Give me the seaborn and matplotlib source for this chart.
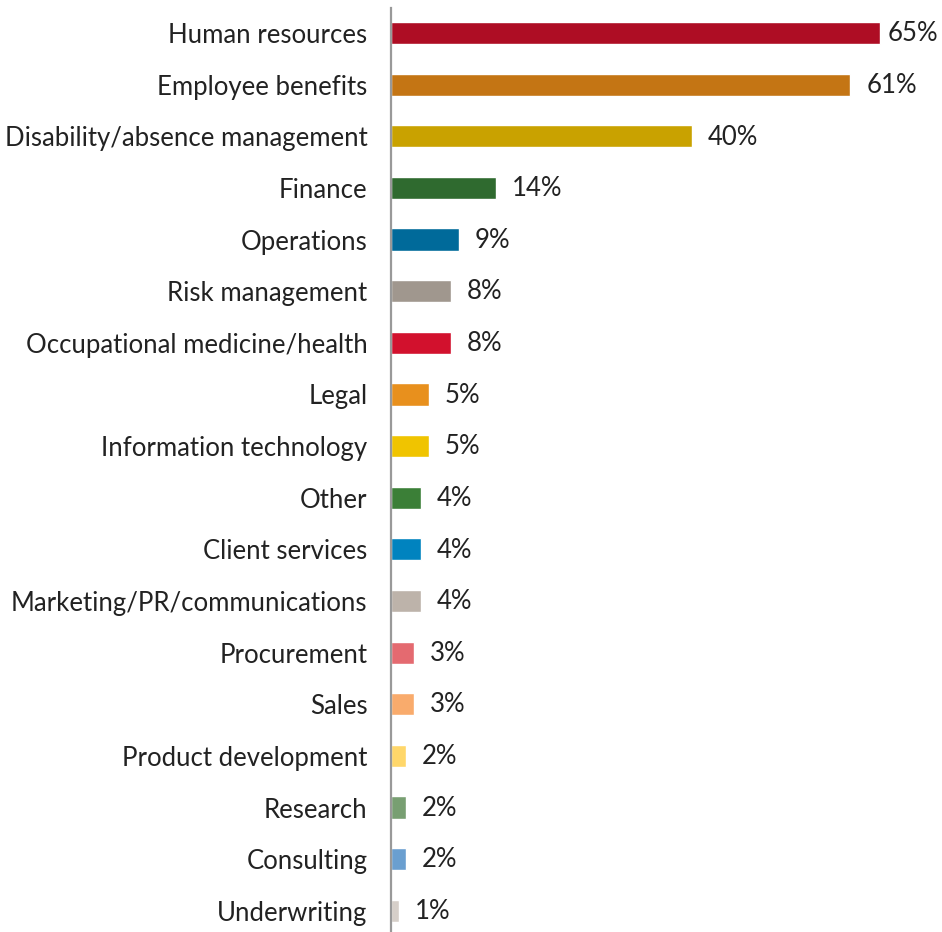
import matplotlib
matplotlib.use("Agg")
import matplotlib.pyplot as plt
import seaborn as sns
import pandas as pd

categories = [
    "Human resources", "Employee benefits", "Disability/absence management",
    "Finance", "Operations", "Risk management", "Occupational medicine/health",
    "Legal", "Information technology", "Other", "Client services",
    "Marketing/PR/communications", "Procurement", "Sales",
    "Product development", "Research", "Consulting", "Underwriting",
]
values = [65, 61, 40, 14, 9, 8, 8, 5, 5, 4, 4, 4, 3, 3, 2, 2, 2, 1]
colors = [
    "#AE0D24", "#C47514", "#C9A200", "#2F6A2F", "#006A9A", "#A0978E",
    "#D2112D", "#E8901D", "#F0C400", "#3B7F37", "#0083BF", "#BDB3AA",
    "#E46A70", "#F9AB6C", "#FFD76A", "#789F72", "#6A9FD0", "#D6CFC9",
]

df = pd.DataFrame({"category": categories, "value": values})

sns.set_theme(style="white")
plt.rcParams["font.family"] = ["Lato", "DejaVu Sans"]

fig = plt.figure(figsize=(9.42, 9.32), dpi=100)
ax = fig.add_axes([391 / 942, 0.0, 1 - 391 / 942, 1 - 8 / 932])

sns.barplot(
    data=df, x="value", y="category", hue="category",
    palette=dict(zip(categories, colors)), legend=False,
    orient="h", width=0.43, saturation=1, ax=ax,
)

xmax = 73.2
ax.set_xlim(0, xmax)
ax.set_ylim(len(categories) - 1 + 0.41, -0.485)

for i, v in enumerate(values):
    pad = 5 if v > 0.85 * xmax else 11.5
    ax.annotate(f"{v}%", xy=(v, i), xytext=(pad, -0.5), textcoords="offset points",
                va="center", ha="left", fontsize=18.5, color="#222222")

ax.set_xlabel("")
ax.set_ylabel("")
ax.set_xticks([])
ax.tick_params(axis="y", length=0, pad=17, labelsize=18.5, labelcolor="#222222")
for side in ["top", "right", "bottom"]:
    ax.spines[side].set_visible(False)
ax.spines["left"].set_color("#999999")
ax.spines["left"].set_linewidth(1.6)

fig.savefig("out.png", dpi=100)
